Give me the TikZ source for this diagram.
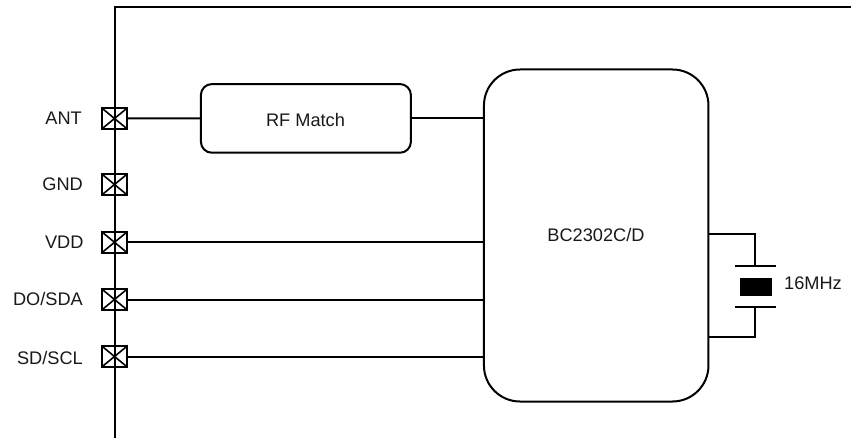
\documentclass[tikz,border=0pt]{standalone}
\usepackage{fontspec}
\setmainfont{Liberation Sans}
\tikzset{
  px/.style={x=1pt,y=-1pt},
  wire/.style={line width=2pt,black},
  blockbox/.style={draw=black,line width=2pt,fill=white,inner sep=0pt},
  lab/.style={font=\fontsize{18.2}{20}\selectfont,text=black!90,inner sep=0pt},
  padbox/.style={rectangle,draw=black,line width=2pt,minimum width=25.5pt,minimum height=21pt,inner sep=0pt,outer sep=0pt},
}
\newcommand{\padcross}[1]{\draw[wire,line width=1.6pt] (#1.north west) -- (#1.south east) (#1.north east) -- (#1.south west);}
\begin{document}
\begin{tikzpicture}[px]
\useasboundingbox (0,0) rectangle (851,438);
\coordinate (tr) at (851,7);
\coordinate (tl) at (114.5,7);
\coordinate (bl) at (114.5,437.5);
\draw[wire,line join=miter] (tr) -- (tl) -- (bl);
\node[padbox] (p1) at (114.5,118.5) {};
\node[padbox] (p2) at (114.5,184.5) {};
\node[padbox] (p3) at (114.5,242.3) {};
\node[padbox] (p4) at (114.5,299.5) {};
\node[padbox] (p5) at (114.5,356.5) {};
\padcross{p1}\padcross{p2}\padcross{p3}\padcross{p4}\padcross{p5}
\node[lab,anchor=base east] (l1) at (82,124.2) {ANT};
\node[lab,anchor=base east] (l2) at (83,190.8) {GND};
\node[lab,anchor=base east] (l3) at (83.7,248.2) {VDD};
\node[lab,anchor=base east] (l4) at (83,305.5) {DO/SDA};
\node[lab,anchor=base east] (l5) at (83,364.5) {SD/SCL};
\node[blockbox,rounded corners=11pt,minimum width=210pt,minimum height=68.7pt] (rf) at (305.9,118.4) {};
\node[lab,anchor=base] (rft) at (305.5,126.5) {RF Match};
\node[blockbox,rounded corners=36pt,minimum width=224.5pt,minimum height=332pt] (ic) at (596.2,235.5) {};
\node[lab,anchor=base] (ict) at (596,241.5) {BC2302C/D};
\draw[wire] (p1.east) -- (rf.west);
\draw[wire] (rf.east) -- (ic.west |- rf.east);
\draw[wire] (p3.east) -- (ic.west |- p3.east);
\draw[wire] (p4.east) -- (ic.west |- p4.east);
\draw[wire] (p5.east) -- (ic.west |- p5.east);
\coordinate (ict1) at (708.5,234);
\coordinate (icb1) at (708.5,337);
\coordinate (pt) at (755,266.3);
\coordinate (pb) at (755,306.7);
\coordinate (ptl) at (735,266.3);
\coordinate (ptr) at (775.7,266.3);
\coordinate (pbl) at (735,306.7);
\coordinate (pbr) at (775.7,306.7);
\node[draw=black,fill=black,minimum width=31pt,minimum height=17pt,inner sep=0pt] (xtal) at (755.3,286.7) {};
\draw[wire,line cap=rect] (ict1) -- (pt |- ict1) -- (pt);
\draw[wire,line cap=rect] (icb1) -- (pb |- icb1) -- (pb);
\draw[wire] (ptl) -- (ptr);
\draw[wire] (pbl) -- (pbr);
\node[lab,anchor=base west] (xl) at (784,290) {16MHz};
\end{tikzpicture}
\end{document}
